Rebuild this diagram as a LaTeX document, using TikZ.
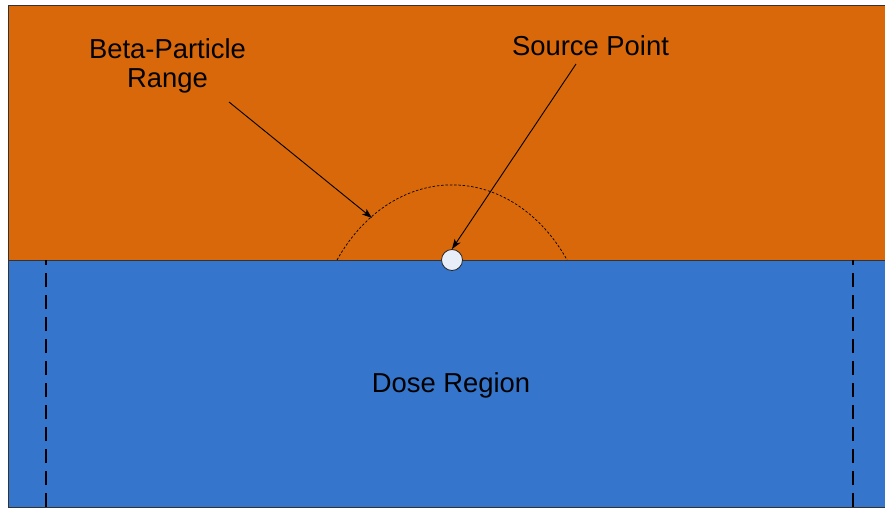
\documentclass[tikz,border=0pt]{standalone}
\usepackage{fontspec}
\setmainfont{Liberation Sans}
\usetikzlibrary{arrows.meta}
\definecolor{slab}{RGB}{217,104,11}
\definecolor{dose}{RGB}{53,118,204}
\definecolor{ptfill}{RGB}{232,238,248}
\begin{document}
\begin{tikzpicture}[x=1pt,y=-1pt,
  txt/.style={font=\fontsize{27.4}{29}\selectfont, inner sep=0pt, text=black},
  pointer/.style={draw=black, line width=0.9pt, -{Stealth[length=10pt,width=7pt,inset=2.5pt]}},
  edge/.style={draw=black!80, line width=1pt},
  bound/.style={draw=black, line width=1.6pt, dash pattern=on 14pt off 8pt},
  rangearc/.style={draw=black, line width=0.7pt, dash pattern=on 2.5pt off 1.8pt}]
\useasboundingbox (0,0) rectangle (885,508);
\fill[white] (0,0) rectangle (885,508);
% layers
\path[fill=slab, edge] (8,6) rectangle (890,260);
\path[fill=dose, edge] (8,260) rectangle (890,507);
% dose region boundaries
\coordinate (lt) at (46,260);
\coordinate (lb) at (46,507);
\coordinate (rt) at (853,260);
\coordinate (rb) at (853,507);
\draw[bound] (lb) -- (lt);
\draw[bound] (rb) -- (rt);
% beta range: elliptic cap cut by the interface
\draw[rangearc] (337,260) arc[start angle=214.8, end angle=325.2, x radius=140.1, y radius=175];
% source point
\node[circle, draw=black!85, fill=ptfill, minimum size=21pt, inner sep=0pt, line width=0.8pt] (src) at (452,260) {};
% labels
\node[txt, anchor=base] (doselbl) at (451,392.7) {Dose Region};
\node[txt, anchor=base] (srclbl) at (590.5,56) {Source Point};
\node[txt, anchor=base, align=center] (rangelbl) at (167.5,87.3) {Beta-Particle\\Range};
% pointers
\coordinate (rangetail) at (229,102);
\coordinate (rangehit) at (372,218);
\coordinate (srctail) at (576,64);
\draw[pointer] (rangetail) -- (rangehit);
\draw[pointer] (srctail) -- (src.north);
\end{tikzpicture}
\end{document}
